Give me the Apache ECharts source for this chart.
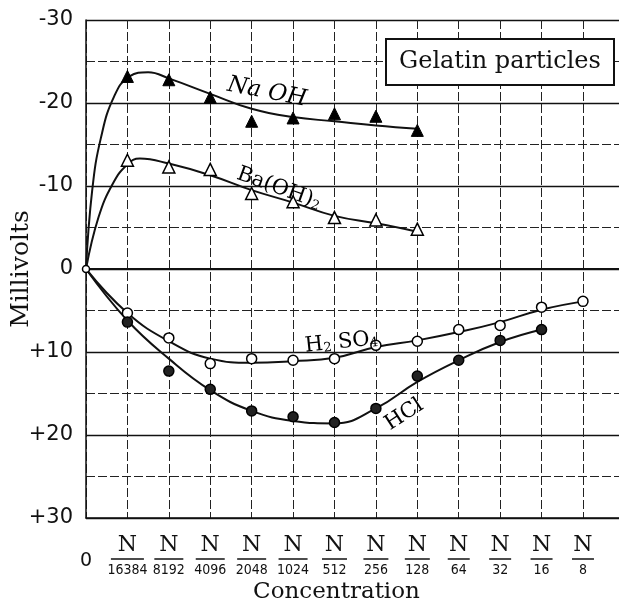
<!DOCTYPE html>
<html>
<head>
<meta charset="utf-8">
<script src="https://cdn.jsdelivr.net/npm/echarts@6/dist/echarts.min.js"></script>
<style>html,body{margin:0;padding:0;background:#fff}#chart{width:619px;height:607px}</style>
</head>
<body>
<div id="chart"></div>
<script>
// x positions: 0 = origin, 1..12 = N/16384 ... N/8
const xDenoms = ['16384','8192','4096','2048','1024','512','256','128','64','32','16','8'];
const yTickStep = 10;

// measured points (millivolts; negative plotted upward)
const naohPoints = [[1,-23.2],[2,-22.8],[3,-20.7],[4,-17.8],[5,-18.2],[6,-18.7],[7,-18.4],[8,-16.7]];
const baohPoints = [[1,-13.1],[2,-12.3],[3,-12.0],[4,-9.1],[5,-8.1],[6,-6.2],[7,-5.9],[8,-4.8]];
const h2so4Points = [[1,5.3],[2,8.3],[3,11.4],[4,10.8],[5,11.0],[6,10.8],[7,9.2],[8,8.7],[9,7.3],[10,6.8],[11,4.6],[12,3.9]];
const hclPoints = [[1,6.4],[2,12.3],[3,14.5],[4,17.1],[5,17.8],[6,18.5],[7,16.8],[8,12.9],[9,11.0],[10,8.6],[11,7.3]];
const originPoint = [[0,0]];

// hand-drawn fitted curves
const naohCurve = [[0,0],[0.15,-9.5],[0.36,-15.8],[0.68,-20.8],[1.05,-23.2],[1.5,-23.7],[2.03,-22.9],[3,-21.1],[4,-19.3],[5,-18.3],[6,-17.8],[7,-17.3],[8,-16.9]];
const baohCurve = [[0,0],[0.3,-6.2],[0.65,-10.3],[1.0,-12.6],[1.3,-13.3],[2,-12.7],[3,-11.3],[4,-9.5],[5,-8.0],[6,-6.4],[7,-5.5],[8,-4.5]];
const h2so4Curve = [[0,0],[1,5.3],[2,8.7],[3,10.8],[4,11.3],[5,11.1],[6,10.7],[7,9.4],[8,8.6],[9,7.6],[10,6.4],[11,4.9],[12,3.9]];
const hclCurve = [[0,0],[1,6.2],[2,10.8],[3,14.6],[4,17.1],[5,18.3],[6,18.6],[7,16.8],[8,13.6],[9,11.0],[10,8.8],[11,7.3]];

// curve names: [x, y, rotation, rich text]
const curveLabels = [
  [4.37, -21.3, -11, '{i|Na OH}'],
  [4.68, -10.0, -20, '{t|Ba(OH)}{s|2}'],
  [6.16, 8.55, 6, '{t|H}{s|2}{t| SO}{s|4}'],
  [7.65, 17.3, 33, '{t|HCl}']
];

const chart = echarts.init(document.getElementById('chart'), null, {renderer: 'canvas'});
const black = '#111';
const serif = "'DejaVu Serif', serif";
const sans = "'DejaVu Sans', sans-serif";

function curveSeries(data) {
  return {type: 'line', data: data, smooth: 0.45, symbol: 'none',
    lineStyle: {color: black, width: 2}, z: 3, silent: true};
}
function markerSeries(data, symbol, size, fill, bw) {
  return {type: 'scatter', data: data, symbol: symbol, symbolSize: size,
    itemStyle: {color: fill, borderColor: '#000', borderWidth: bw, opacity: 1}, z: 5, silent: true};
}

const option = {
  animation: false,
  backgroundColor: '#fff',
  title: {
    text: 'Gelatin particles',
    left: 386, top: 39,
    padding: [9, 13],
    backgroundColor: '#fff',
    borderColor: black, borderWidth: 2,
    textStyle: {fontFamily: serif, fontSize: 24, fontWeight: 'normal', color: black, lineHeight: 28}
  },
  grid: {left: 86, top: 20, right: 0, bottom: 89, containLabel: false, outerBoundsMode: 'none'},
  xAxis: {
    type: 'value', min: 0, max: 12.87, interval: 1,
    name: 'Concentration', nameLocation: 'middle', nameGap: 63, nameMoveOverlap: false,
    nameTextStyle: {fontFamily: serif, fontSize: 23, color: black, padding: [0, 32, 0, 0]},
    axisLine: {show: true, onZero: false, lineStyle: {color: black, width: 1.5}},
    axisTick: {show: false},
    splitLine: {show: true, lineStyle: {color: '#222', width: 1, type: [9, 3]}},
    axisLabel: {
      margin: 16,
      color: black,
      formatter: function (v) {
        const r = Math.round(v);
        if (Math.abs(v - r) > 1e-6) return '';
        if (r === 0) return '{z|0}';
        if (r >= 1 && r <= xDenoms.length) {
          const d = xDenoms[r - 1];
          return '{n|N}\n{b' + d.length + '|}\n{d|' + d + '}';
        }
        return '';
      },
      rich: {
        z: {fontFamily: sans, fontSize: 19, lineHeight: 54, color: black},
        n: {fontFamily: serif, fontSize: 22, lineHeight: 22, color: black},
        b5: {width: 33, height: 1.5, backgroundColor: black, lineHeight: 6},
        b4: {width: 29, height: 1.5, backgroundColor: black, lineHeight: 6},
        b3: {width: 25, height: 1.5, backgroundColor: black, lineHeight: 6},
        b2: {width: 22, height: 1.5, backgroundColor: black, lineHeight: 6},
        b1: {width: 22, height: 1.5, backgroundColor: black, lineHeight: 6},
        d: {fontFamily: "'Liberation Sans Narrow', 'DejaVu Sans Condensed', 'Liberation Sans', sans-serif", fontSize: 14, lineHeight: 16, color: black}
      }
    }
  },
  yAxis: {
    type: 'value', inverse: true, min: -30, max: 30, interval: yTickStep,
    name: 'Millivolts', nameLocation: 'middle', nameGap: 52, nameRotate: 90, nameMoveOverlap: false,
    nameTextStyle: {fontFamily: serif, fontSize: 25, color: black},
    axisLine: {show: true, lineStyle: {color: black, width: 1.5}},
    axisTick: {show: false},
    minorTick: {show: false, splitNumber: 2},
    minorSplitLine: {show: true, lineStyle: {color: '#222', width: 1, type: [9, 3]}},
    splitLine: {show: true, lineStyle: {color: black, width: 1.3}},
    axisLabel: {
      margin: 13, color: black, fontFamily: sans, fontSize: 21,
      formatter: function (v) { return v > 0 ? '+' + v : String(v); }
    }
  },
  series: [
    curveSeries(naohCurve),
    curveSeries(baohCurve),
    curveSeries(h2so4Curve),
    curveSeries(hclCurve),
    {
      type: 'line', data: [], silent: true,
      markLine: {silent: true, symbol: 'none', label: {show: false},
        lineStyle: {color: black, width: 2.2, type: 'solid'}, data: [{yAxis: 0}]}
    },
    markerSeries(naohPoints, 'triangle', 12, '#000', 1),
    markerSeries(baohPoints, 'triangle', 12, '#fff', 1.5),
    markerSeries(h2so4Points, 'circle', 10, '#fff', 1.5),
    markerSeries(hclPoints, 'circle', 10, '#222', 1.5),
    markerSeries(originPoint, 'circle', 7, '#fff', 1.5),
    {
      type: 'scatter', symbolSize: 0, silent: true, z: 7,
      itemStyle: {color: '#000', opacity: 1},
      data: curveLabels.map(function (c) {
        return {value: [c[0], c[1]], label: {show: true, position: 'inside', rotate: c[2], formatter: c[3]}};
      }),
      label: {
        show: true, color: '#000', textBorderWidth: 0, opacity: 1,
        rich: {
          i: {fontFamily: serif, fontStyle: 'italic', fontSize: 23, color: '#000'},
          t: {fontFamily: serif, fontSize: 21, color: '#000', verticalAlign: 'bottom', lineHeight: 26},
          s: {fontFamily: serif, fontSize: 13, color: '#000', verticalAlign: 'bottom', lineHeight: 18}
        }
      }
    }
  ]
};
chart.setOption(option);
</script>
</body>
</html>
